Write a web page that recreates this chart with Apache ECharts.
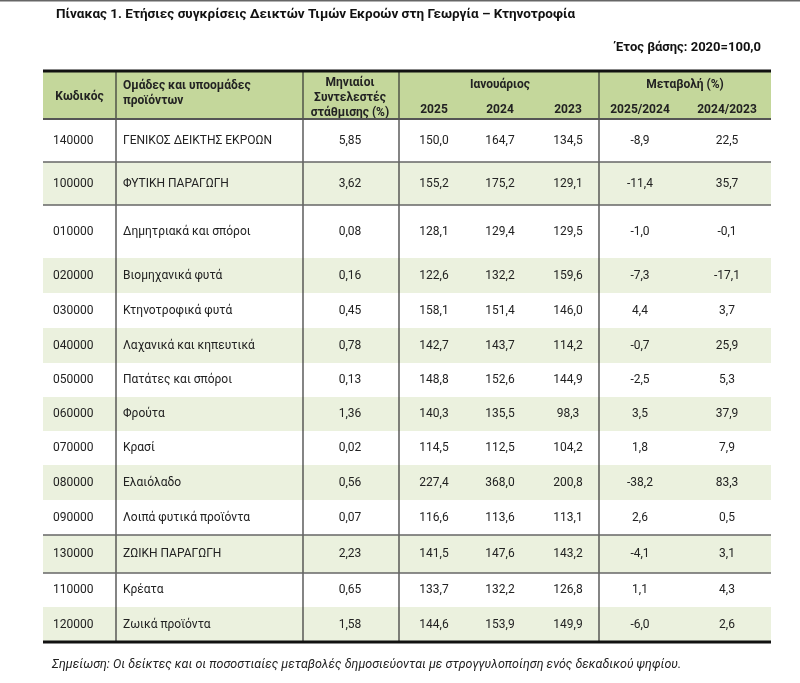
<!DOCTYPE html>
<html>
<head>
<meta charset="utf-8">
<script src="https://cdn.jsdelivr.net/npm/echarts@6/dist/echarts.min.js"></script>
<style>html,body{margin:0;padding:0;background:#fff}#main{width:800px;height:683px}</style>
</head>
<body>
<div id="main"></div>
<script>
// ---- data ----
const titleText = 'Πίνακας 1. Ετήσιες συγκρίσεις Δεικτών Τιμών Εκροών στη Γεωργία – Κτηνοτροφία';
const baseText = 'Έτος βάσης: 2020=100,0';
const noteText = 'Σημείωση: Οι δείκτες και οι ποσοστιαίες μεταβολές δημοσιεύονται με στρογγυλοποίηση ενός δεκαδικού ψηφίου.';
const headCode = 'Κωδικός';
const headName = ['Ομάδες και υποομάδες', 'προϊόντων'];
const headWeight = ['Μηνιαίοι', 'Συντελεστές', 'στάθμισης (%)'];
const headMonth = 'Ιανουάριος';
const headYears = ['2025', '2024', '2023'];
const headChange = 'Μεταβολή (%)';
const headChangeCols = ['2025/2024', '2024/2023'];

const codes = ['140000','100000','010000','020000','030000','040000','050000','060000','070000','080000','090000','130000','110000','120000'];
const names = ['ΓΕΝΙΚΟΣ ΔΕΙΚΤΗΣ ΕΚΡΟΩΝ','ΦΥΤΙΚΗ ΠΑΡΑΓΩΓΗ','Δημητριακά και σπόροι','Βιομηχανικά φυτά','Κτηνοτροφικά φυτά','Λαχανικά και κηπευτικά','Πατάτες και σπόροι','Φρούτα','Κρασί','Ελαιόλαδο','Λοιπά φυτικά προϊόντα','ΖΩΙΚΗ ΠΑΡΑΓΩΓΗ','Κρέατα','Ζωικά προϊόντα'];
const weights = [5.85,3.62,0.08,0.16,0.45,0.78,0.13,1.36,0.02,0.56,0.07,2.23,0.65,1.58];
const jan2025 = [150.0,155.2,128.1,122.6,158.1,142.7,148.8,140.3,114.5,227.4,116.6,141.5,133.7,144.6];
const jan2024 = [164.7,175.2,129.4,132.2,151.4,143.7,152.6,135.5,112.5,368.0,113.6,147.6,132.2,153.9];
const jan2023 = [134.5,129.1,129.5,159.6,146.0,114.2,144.9,98.3,104.2,200.8,113.1,143.2,126.8,149.9];
const chg2025_2024 = [-8.9,-11.4,-1.0,-7.3,4.4,-0.7,-2.5,3.5,1.8,-38.2,2.6,-4.1,1.1,-6.0];
const chg2024_2023 = [22.5,35.7,-0.1,-17.1,3.7,25.9,5.3,37.9,7.9,83.3,0.5,3.1,4.3,2.6];

// ---- layout (positions / styles, kept apart from data) ----
const W = 800, H = 683;
const colEdges = [43, 116, 303, 399, 599, 771];
const tableTop = 71, headBottom = 119;
const rowEdges = [119,162,205,258,293,328,363,397,431,465,500,535,573,607,642];
const ruleAfterRows = [0, 1, 10, 11];
const cellAnchors = [ // [x, align]
  [53,'left'],[123,'left'],[350,'center'],[434,'center'],[500,'center'],[568,'center'],[640,'center'],[727,'center']
];
const FONT = 'Roboto, "Noto Sans", sans-serif';
const FS = 12;
const txtColor = '#222';
const headFill = '#c4d79b';
const shadeFill = '#ebf1de';

function fmt(v, d) { return v.toFixed(d).replace('.', ','); }

function txt(p, s, align, weight, size, style) {
  return { type: 'text', x: p[0], y: p[1], silent: true,
    style: { text: s, fill: txtColor, fontFamily: FONT, fontSize: size || FS, fontWeight: weight || 'normal',
      fontStyle: style || 'normal', align: align, verticalAlign: 'middle' } };
}

function renderHeader(params, api) {
  const c = (x, y) => api.coord([x, y]);
  const a = c(colEdges[0], tableTop), b = c(colEdges[5], headBottom);
  const ch = [{ type: 'rect', shape: { x: a[0], y: a[1], width: b[0]-a[0], height: b[1]-a[1] }, style: { fill: headFill } }];
  ch.push(txt(c((colEdges[0]+colEdges[1])/2, 97), headCode, 'center', 'bold'));
  ch.push(txt(c(123, 86), headName[0], 'left', 'bold'));
  ch.push(txt(c(123, 101), headName[1], 'left', 'bold'));
  headWeight.forEach((s, k) => ch.push(txt(c(350, 83 + k*15), s, 'center', 'bold')));
  ch.push(txt(c(500, 85), headMonth, 'center', 'bold'));
  headYears.forEach((s, k) => ch.push(txt(c(cellAnchors[3+k][0], 110), s, 'center', 'bold')));
  ch.push(txt(c(685, 85), headChange, 'center', 'bold'));
  headChangeCols.forEach((s, k) => ch.push(txt(c(cellAnchors[6+k][0], 110), s, 'center', 'bold')));
  return { type: 'group', children: ch };
}

function renderRow(params, api) {
  const i = api.value(0);
  const y0 = rowEdges[i], y1 = rowEdges[i+1];
  const a = api.coord([colEdges[0], y0]), b = api.coord([colEdges[5], y1]);
  const ch = [];
  if (i % 2 === 1) ch.push({ type: 'rect', shape: { x: a[0], y: a[1], width: b[0]-a[0], height: b[1]-a[1] }, style: { fill: shadeFill } });
  const yc = (y0 + y1) / 2;
  const cells = [codes[i], names[i], fmt(weights[i], 2), fmt(jan2025[i], 1), fmt(jan2024[i], 1), fmt(jan2023[i], 1), fmt(chg2025_2024[i], 1), fmt(chg2024_2023[i], 1)];
  cells.forEach((s, k) => ch.push(txt(api.coord([cellAnchors[k][0], yc]), s, cellAnchors[k][1])));
  return { type: 'group', children: ch };
}

function renderRules(params, api) {
  const ch = [];
  const ln = (x1, y1, x2, y2, stroke, w) => {
    const p = api.coord([x1, y1]), q = api.coord([x2, y2]);
    ch.push({ type: 'line', shape: { x1: p[0], y1: p[1], x2: q[0], y2: q[1] }, style: { stroke: stroke, lineWidth: w } });
  };
  const L = colEdges[0], R = colEdges[5], B = rowEdges[rowEdges.length-1];
  for (let k = 1; k < colEdges.length - 1; k++) ln(colEdges[k], tableTop, colEdges[k], B, '#333', 1.2);
  ruleAfterRows.forEach(r => ln(L, rowEdges[r+1], R, rowEdges[r+1], '#666', 1.6));
  ln(L, headBottom, R, headBottom, '#555', 2);
  ln(L, tableTop, R, tableTop, '#111', 3);
  ln(L, B, R, B, '#111', 3);
  ln(0, 0.75, W, 0.75, '#666', 1.5);
  return { type: 'group', children: ch };
}

const chart = echarts.init(document.getElementById('main'), null, { renderer: 'canvas' });
chart.setOption({
  animation: false,
  backgroundColor: '#fff',
  title: [
    { text: titleText, left: 51, top: 3, textStyle: { fontFamily: FONT, fontSize: 13.5, fontWeight: 'bold', color: '#111' } },
    { text: baseText, right: 34, top: 36, textStyle: { fontFamily: FONT, fontSize: 13, fontWeight: 'bold', color: '#111' } },
    { text: noteText, left: 47, top: 653, textStyle: { fontFamily: FONT, fontSize: 12.5, fontStyle: 'italic', fontWeight: 'normal', color: '#222' } }
  ],
  grid: { left: 0, right: 0, top: 0, bottom: 0 },
  xAxis: { type: 'value', min: 0, max: W, show: false },
  yAxis: { type: 'value', min: 0, max: H, inverse: true, show: false },
  series: [
    { type: 'custom', silent: true, data: [[0]], renderItem: renderHeader, z: 1 },
    { type: 'custom', silent: true, data: codes.map((_, i) => [i]), renderItem: renderRow, z: 2 },
    { type: 'custom', silent: true, data: [[0]], renderItem: renderRules, z: 3 }
  ]
});
</script>
</body>
</html>
